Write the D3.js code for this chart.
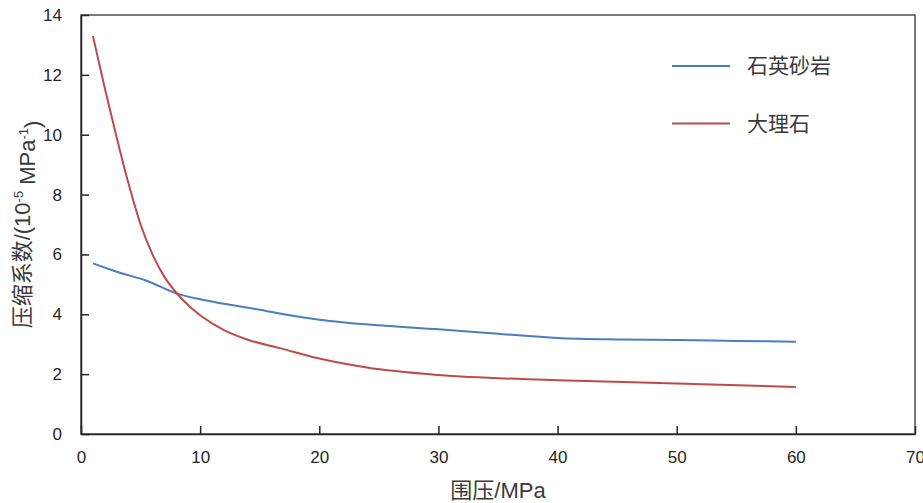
<!DOCTYPE html>
<html lang="zh">
<head>
    <meta charset="UTF-8">
    <title>压缩系数与围压</title>
    <script src="https://d3js.org/d3.v7.min.js"></script>
    <style>
        body { margin: 0; background: #fff; }
        svg text { font-family: "Liberation Sans", Arial, "Noto Sans CJK SC", sans-serif; fill: #262626; }
        .cjk { font-family: "Liberation Sans", "Noto Sans CJK SC", sans-serif; fill: #3a3a3a; }
    </style>
</head>
<body>
<svg width="923" height="503"></svg>
<script>
    // 石英砂岩
    const sandX = [1, 3, 5.5, 8, 10, 12, 15, 17, 20, 25, 30, 35, 40, 45, 50, 55, 60];
    const sandY = [5.7, 5.42, 5.12, 4.7, 4.5, 4.35, 4.15, 4.0, 3.82, 3.63, 3.5, 3.35, 3.21, 3.16, 3.14, 3.11, 3.08];
    // 大理石
    const marbleX = [1, 2, 3, 4, 5, 6, 7, 8, 9, 10, 12, 14, 16.7, 20, 24, 30, 40, 50, 60];
    const marbleY = [13.3, 11.55, 9.9, 8.35, 7.0, 6.0, 5.25, 4.72, 4.3, 3.97, 3.47, 3.15, 2.87, 2.52, 2.22, 1.97, 1.8, 1.69, 1.57];

    const xTicks = [0, 10, 20, 30, 40, 50, 60, 70];
    const yTicks = [0, 2, 4, 6, 8, 10, 12, 14];
    const seriesNames = ["石英砂岩", "大理石"];
    const colors = ["#4a7ebf", "#be4b48"];

    const margin = {top: 15, right: 8, bottom: 69, left: 81},
          width = 923 - margin.left - margin.right,
          height = 503 - margin.top - margin.bottom;

    const svg = d3.select("svg");
    const g = svg.append("g").attr("transform", `translate(${margin.left},${margin.top})`);

    const x = d3.scaleLinear().domain([0, 70]).range([0, width]);
    const y = d3.scaleLinear().domain([0, 14]).range([height, 0]);

    // frame (top + right)
    g.append("rect")
        .attr("x", 0).attr("y", 0)
        .attr("width", width).attr("height", height)
        .attr("fill", "none").attr("stroke", "#333").attr("stroke-width", 1.3);

    const xAxis = g.append("g")
        .attr("transform", `translate(0,${height})`)
        .call(d3.axisBottom(x).tickValues(xTicks).tickSizeInner(-8).tickSizeOuter(0).tickPadding(17));
    const yAxis = g.append("g")
        .call(d3.axisLeft(y).tickValues(yTicks).tickSizeInner(-8).tickSizeOuter(0).tickPadding(19));

    [xAxis, yAxis].forEach(a => {
        a.selectAll("path, line").attr("stroke", "#262626").attr("stroke-width", 1.5);
        a.selectAll("text").style("font-size", "17px").attr("fill", "#262626")
            .style("font-family", "'Liberation Sans', Arial, sans-serif");
    });

    const line = d3.line()
        .x(d => x(d[0]))
        .y(d => y(d[1]))
        .curve(d3.curveMonotoneX);

    const series = [d3.zip(sandX, sandY), d3.zip(marbleX, marbleY)];

    series.forEach((s, i) => {
        g.append("path")
            .datum(s)
            .attr("fill", "none")
            .attr("stroke", colors[i])
            .attr("stroke-width", 2)
            .attr("d", line);
    });

    // legend
    const legend = g.append("g").attr("transform", `translate(${672 - margin.left},${66 - margin.top})`);
    seriesNames.forEach((name, i) => {
        const row = legend.append("g").attr("transform", `translate(0,${i * 57.5})`);
        row.append("line").attr("x1", 0).attr("x2", 58).attr("y1", 0).attr("y2", 0)
            .attr("stroke", colors[i]).attr("stroke-width", 2);
        row.append("text").attr("class", "cjk").attr("x", 75).attr("y", 0).attr("dy", "0.35em")
            .style("font-size", "21px").text(name);
    });

    // axis titles
    svg.append("text")
        .attr("class", "cjk")
        .attr("x", 498)
        .attr("y", 498)
        .attr("text-anchor", "middle")
        .style("font-size", "22px")
        .text("围压/MPa");

    const yl = svg.append("text")
        .attr("class", "cjk")
        .attr("transform", `translate(30,${margin.top + height / 2}) rotate(-90)`)
        .attr("text-anchor", "middle")
        .style("font-size", "22px");
    yl.append("tspan").text("压缩系数/(10");
    yl.append("tspan").attr("dy", "-0.55em").style("font-size", "13px").text("-5");
    yl.append("tspan").attr("dy", "0.55em").text(" MPa");
    yl.append("tspan").attr("dy", "-0.55em").style("font-size", "13px").text("-1");
    yl.append("tspan").attr("dy", "0.55em").text(")");
</script>
</body>
</html>
